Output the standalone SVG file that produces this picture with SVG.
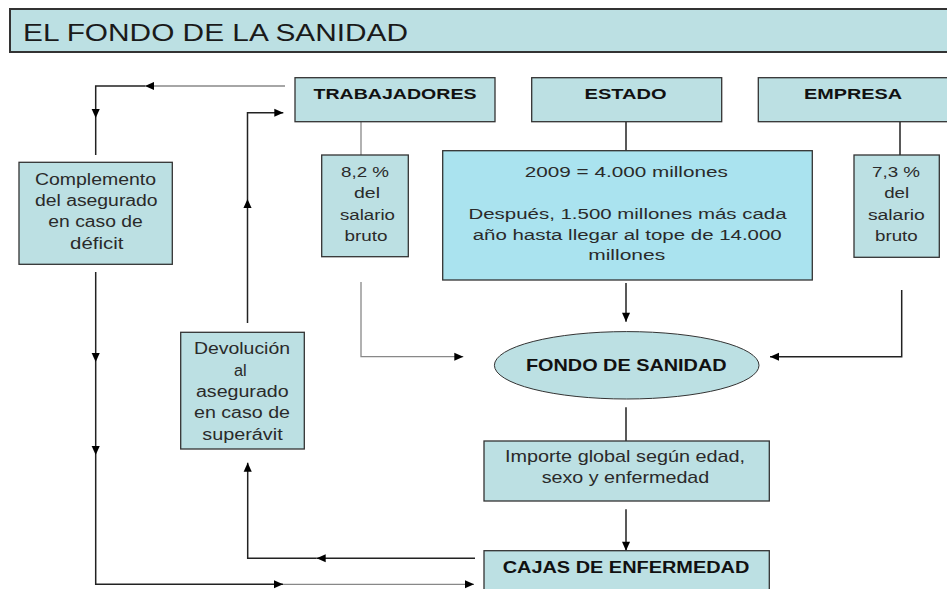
<svg xmlns="http://www.w3.org/2000/svg" width="947" height="589" viewBox="0 0 947 589">
<style>
text{font-family:"Liberation Sans",Arial,sans-serif;fill:#2a2a2a;text-anchor:middle}
.t{font-size:24px;text-anchor:start;fill:#1a1a1a}
.b{font-weight:bold;font-size:15px;fill:#111}
.r{font-size:15.5px}
.box{fill:#bce0e3;stroke:#333;stroke-width:1.3}
.big{fill:#aae3ef;stroke:#333;stroke-width:1.3}
.c{fill:none;stroke:#222;stroke-width:1.5}
.g{fill:none;stroke:#888;stroke-width:1.3}
</style>
<defs>
<marker id="ah" viewBox="0 0 10 10" refX="10" refY="5" markerWidth="10" markerHeight="9" markerUnits="userSpaceOnUse" orient="auto">
<path d="M0,0.5 L10,5 L0,9.5 z" fill="#000"/>
</marker>
</defs>
<rect width="947" height="589" fill="#fff"/>
<g id="title">
<rect x="10" y="9" width="960" height="43" class="box" style="stroke-width:2"/>
<text x="23" y="41" class="t" textLength="385" lengthAdjust="spacingAndGlyphs">EL FONDO DE LA SANIDAD</text>
</g>
<g id="connectors">
<path d="M285,86 H145" class="g" marker-end="url(#ah)"/>
<path d="M145,86 H95.7 V118" class="c" marker-end="url(#ah)"/>
<path d="M95.7,118 V155" class="c"/>
<path d="M95.7,272 V362" class="c" marker-end="url(#ah)"/>
<path d="M95.7,362 V455" class="c" marker-end="url(#ah)"/>
<path d="M95.7,455 V584.3 H283" class="c" marker-end="url(#ah)"/>
<path d="M283,584.3 H474" class="g" marker-end="url(#ah)"/>
<path d="M475,558.3 H316.7" class="c" marker-end="url(#ah)"/>
<path d="M316.7,558.3 H247.7 V462.7" class="c" marker-end="url(#ah)"/>
<path d="M247.5,323 V199" class="c" marker-end="url(#ah)"/>
<path d="M247.5,199 V112.7 H283.3" class="c" marker-end="url(#ah)"/>
<path d="M361,122 V155" class="g"/>
<path d="M361,282 V356.7 H463.3" class="g" marker-end="url(#ah)"/>
<path d="M626,122 V150.7" class="c"/>
<path d="M626,283 V321.7" class="c" marker-end="url(#ah)"/>
<path d="M900,122 V155" class="c"/>
<path d="M901.7,290 V356.7 H770" class="c" marker-end="url(#ah)"/>
<path d="M626,407.3 V441" class="c"/>
<path d="M626,509.3 V550.7" class="c" marker-end="url(#ah)"/>
</g>
<g id="trabajadores">
<rect x="295" y="77.7" width="200" height="44" class="box"/>
<text x="395" y="99.3" class="b" textLength="163" lengthAdjust="spacingAndGlyphs">TRABAJADORES</text>
</g>
<g id="estado">
<rect x="531.7" y="77.7" width="190" height="44" class="box"/>
<text x="625.6" y="99.3" class="b" textLength="82" lengthAdjust="spacingAndGlyphs">ESTADO</text>
</g>
<g id="empresa">
<rect x="758.3" y="77.7" width="200" height="44" class="box"/>
<text x="853" y="99.3" class="b" textLength="98" lengthAdjust="spacingAndGlyphs">EMPRESA</text>
</g>
<g id="trabajadores-pct">
<rect x="321.7" y="155" width="86.6" height="101.7" class="box"/>
<text x="365" y="177.3" class="r" textLength="48" lengthAdjust="spacingAndGlyphs">8,2 %</text>
<text x="367" y="198.3" class="r" textLength="26" lengthAdjust="spacingAndGlyphs">del</text>
<text x="367.5" y="220" class="r" textLength="55" lengthAdjust="spacingAndGlyphs">salario</text>
<text x="366" y="240.7" class="r" textLength="43" lengthAdjust="spacingAndGlyphs">bruto</text>
</g>
<g id="estado-aporte">
<rect x="442.7" y="150.7" width="369.6" height="129.3" class="big"/>
<text x="626.3" y="176.7" class="r" textLength="203" lengthAdjust="spacingAndGlyphs">2009 = 4.000 millones</text>
<text x="627.5" y="219.3" class="r" textLength="318" lengthAdjust="spacingAndGlyphs">Después, 1.500 millones más cada</text>
<text x="627.2" y="240" class="r" textLength="309" lengthAdjust="spacingAndGlyphs">año hasta llegar al tope de 14.000</text>
<text x="626.7" y="260" class="r" textLength="77" lengthAdjust="spacingAndGlyphs">millones</text>
</g>
<g id="empresa-pct">
<rect x="854" y="155" width="85.3" height="102.3" class="box"/>
<text x="896" y="177.3" class="r" textLength="48" lengthAdjust="spacingAndGlyphs">7,3 %</text>
<text x="896.7" y="198.3" class="r" textLength="25" lengthAdjust="spacingAndGlyphs">del</text>
<text x="896.4" y="220" class="r" textLength="57" lengthAdjust="spacingAndGlyphs">salario</text>
<text x="896.4" y="240.7" class="r" textLength="42.7" lengthAdjust="spacingAndGlyphs">bruto</text>
</g>
<g id="complemento">
<rect x="19" y="162.3" width="153.3" height="102" class="box"/>
<text x="95.5" y="185" class="r" style="font-size:16px" textLength="121" lengthAdjust="spacingAndGlyphs">Complemento</text>
<text x="96.3" y="206" class="r" style="font-size:16px" textLength="122.7" lengthAdjust="spacingAndGlyphs">del asegurado</text>
<text x="95.5" y="227.3" class="r" style="font-size:16px" textLength="94.3" lengthAdjust="spacingAndGlyphs">en caso de</text>
<text x="96.7" y="249" class="r" style="font-size:16px" textLength="53.3" lengthAdjust="spacingAndGlyphs">déficit</text>
</g>
<g id="devolucion">
<rect x="180.7" y="332.3" width="123.6" height="116.7" class="box"/>
<text x="242" y="354.3" class="r" style="font-size:16px" textLength="96" lengthAdjust="spacingAndGlyphs">Devolución</text>
<text x="240.3" y="375.7" class="r" style="font-size:16px" textLength="12.7" lengthAdjust="spacingAndGlyphs">al</text>
<text x="242.3" y="397" class="r" style="font-size:16px" textLength="92.7" lengthAdjust="spacingAndGlyphs">asegurado</text>
<text x="242" y="418.4" class="r" style="font-size:16px" textLength="96" lengthAdjust="spacingAndGlyphs">en caso de</text>
<text x="242.5" y="439.8" class="r" style="font-size:16px" textLength="80.3" lengthAdjust="spacingAndGlyphs">superávit</text>
</g>
<g id="fondo">
<ellipse cx="626.7" cy="365.3" rx="132.3" ry="33.7" class="box" style="stroke-width:1"/>
<text x="626.3" y="370.7" class="b" style="font-size:17px" textLength="200.7" lengthAdjust="spacingAndGlyphs">FONDO DE SANIDAD</text>
</g>
<g id="importe">
<rect x="484" y="441" width="285.3" height="60" class="box"/>
<text x="625" y="461.7" class="r" style="font-size:17px" textLength="240" lengthAdjust="spacingAndGlyphs">Importe global según edad,</text>
<text x="625.5" y="482.7" class="r" style="font-size:17px" textLength="167.6" lengthAdjust="spacingAndGlyphs">sexo y enfermedad</text>
</g>
<g id="cajas">
<rect x="484" y="550.7" width="285.3" height="60" class="box"/>
<text x="626" y="572.7" class="b" style="font-size:16px" textLength="246.6" lengthAdjust="spacingAndGlyphs">CAJAS DE ENFERMEDAD</text>
</g>
</svg>
